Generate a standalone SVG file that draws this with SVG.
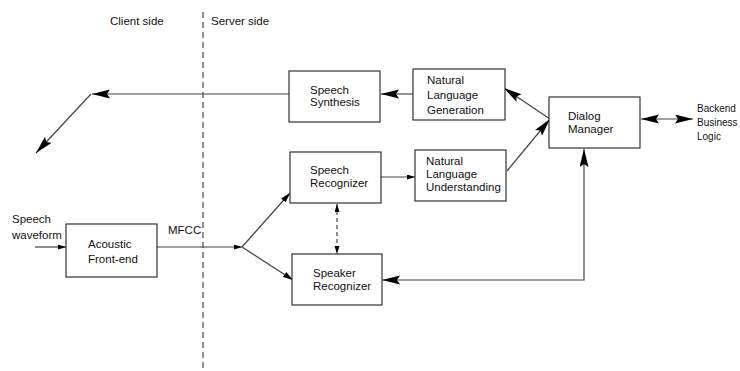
<svg xmlns="http://www.w3.org/2000/svg" width="740" height="371" viewBox="0 0 740 371">
  <style>
    text { font-family: "Liberation Sans", Arial, sans-serif; font-size: 11.5px; fill: #111; }
    .edge-label { font-size: 10px; }
    .box { fill: #fff; stroke: #333; stroke-width: 1.2; }
    .conn { fill: none; stroke: #444; stroke-width: 1.2; }
    .divider { fill: none; stroke: #222; stroke-width: 1; stroke-dasharray: 6 4; }
  </style>
  <defs>
    <marker id="big" markerUnits="userSpaceOnUse" markerWidth="19" markerHeight="10" refX="18" refY="4.5" orient="auto-start-reverse">
      <path d="M0,0 L18,4.5 L0,9 L3,4.5 z" fill="#000"/>
    </marker>
    <marker id="mid" markerUnits="userSpaceOnUse" markerWidth="11" markerHeight="7" refX="10" refY="3" orient="auto-start-reverse">
      <path d="M0,0 L10,3 L0,6 z" fill="#000"/>
    </marker>
    <marker id="small" markerUnits="userSpaceOnUse" markerWidth="9" markerHeight="6" refX="8" refY="2.5" orient="auto-start-reverse">
      <path d="M0,0 L8,2.5 L0,5 z" fill="#000"/>
    </marker>
  </defs>

  <!-- client / server split -->
  <line class="divider" x1="203" y1="12" x2="203" y2="371"/>
  <text x="110" y="25">Client side</text>
  <text x="211" y="25">Server side</text>

  <!-- free labels -->
  <text x="12" y="223">Speech</text>
  <text x="12" y="239">waveform</text>
  <text x="168" y="234">MFCC</text>
  <text class="edge-label" x="697" y="112">Backend</text>
  <text class="edge-label" x="697" y="126">Business</text>
  <text class="edge-label" x="697" y="140">Logic</text>

  <g id="connectors">
    <path class="conn" d="M289,94 H92" marker-end="url(#big)"/>
    <path class="conn" d="M91,94 L36,153" marker-end="url(#big)"/>
    <path class="conn" d="M413,94 H381" marker-end="url(#big)"/>
    <path class="conn" d="M550,119 L504,88" marker-end="url(#big)"/>
    <path class="conn" d="M507,171 L550,119" marker-end="url(#big)"/>
    <path class="conn" d="M641,119 H693" marker-start="url(#big)" marker-end="url(#big)"/>
    <path class="conn" d="M584,149 V280 H382" marker-start="url(#big)" marker-end="url(#big)"/>
    <path class="conn" d="M381,177 H415" marker-end="url(#small)"/>
    <path class="conn" d="M337,204 V254" stroke-dasharray="4 3" marker-start="url(#small)" marker-end="url(#small)"/>
    <path class="conn" d="M35,247 H66" marker-end="url(#small)"/>
    <path class="conn" d="M157,247 H242" marker-end="url(#small)"/>
    <path class="conn" d="M242,247 L290,193" marker-end="url(#mid)"/>
    <path class="conn" d="M242,247 L293,280" marker-end="url(#mid)"/>
  </g>

  <g id="speech-synthesis">
    <rect class="box" x="289" y="71" width="91" height="51"/>
    <text x="310" y="94">Speech</text>
    <text x="310" y="106">Synthesis</text>
  </g>
  <g id="nl-generation">
    <rect class="box" x="413" y="69" width="92" height="51"/>
    <text x="427" y="84">Natural</text>
    <text x="427" y="99">Language</text>
    <text x="427" y="114">Generation</text>
  </g>
  <g id="dialog-manager">
    <rect class="box" x="549" y="97" width="91" height="51"/>
    <text x="568" y="120">Dialog</text>
    <text x="568" y="133">Manager</text>
  </g>
  <g id="nl-understanding">
    <rect class="box" x="415" y="150" width="91" height="51"/>
    <text x="426" y="165">Natural</text>
    <text x="426" y="178">Language</text>
    <text x="426" y="191">Understanding</text>
  </g>
  <g id="speech-recognizer">
    <rect class="box" x="290" y="152" width="91" height="51"/>
    <text x="310" y="174">Speech</text>
    <text x="310" y="187">Recognizer</text>
  </g>
  <g id="speaker-recognizer">
    <rect class="box" x="292" y="254" width="90" height="51"/>
    <text x="313" y="277">Speaker</text>
    <text x="313" y="290">Recognizer</text>
  </g>
  <g id="acoustic-front-end">
    <rect class="box" x="66" y="224" width="91" height="53"/>
    <text x="88" y="248">Acoustic</text>
    <text x="88" y="263">Front-end</text>
  </g>
</svg>
